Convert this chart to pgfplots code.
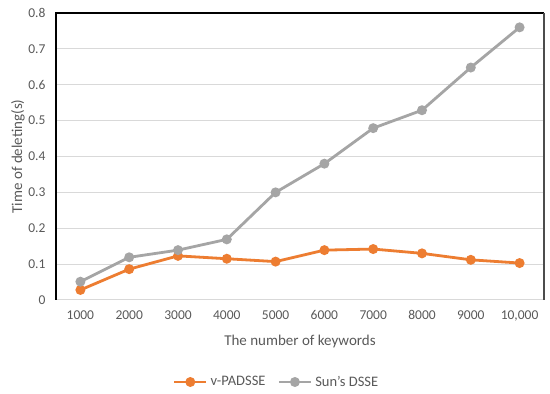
\documentclass[border=0pt]{standalone}
\usepackage{pgfplots}
\pgfplotsset{compat=1.18}
\usepackage{fontspec}
\setmainfont{Carlito}
\definecolor{txt}{HTML}{595959}
\definecolor{orng}{HTML}{ED7D31}
\definecolor{gry}{HTML}{A5A5A5}
\definecolor{gridc}{HTML}{D9D9D9}
\begin{document}
\begin{tikzpicture}
\path[use as bounding box] (0pt,0pt) rectangle (550pt,394pt);
\begin{axis}[
  at={(56pt,94pt)}, anchor=south west,
  width=488pt, height=287pt, scale only axis,
  axis on top=false,
  xmin=0.5, xmax=10.5, ymin=0, ymax=0.8,
  xtick={1,2,3,4,5,6,7,8,9,10},
  xticklabels={1000,2000,3000,4000,5000,6000,7000,8000,9000,{10,000}},
  ytick={0,0.1,0.2,0.3,0.4,0.5,0.6,0.7,0.8},
  yticklabels={0,0.1,0.2,0.3,0.4,0.5,0.6,0.7,0.8},
  /pgf/number format/assume math mode=true,
  grid=none,
  major tick length=0.1pt,
  tick style={draw opacity=0, line width=0pt},
  axis line style={draw=none},
  tick label style={font=\fontsize{13.5}{15}\selectfont, text=txt},
  yticklabel style={anchor=east, xshift=-7pt},
  xticklabel style={anchor=north, yshift=-7pt},
  label style={font=\fontsize{15}{17}\selectfont, text=txt},
  xlabel={The number of keywords},
  ylabel={Time of deleting(s)},
  xlabel style={at={(axis description cs:0.5,0)}, anchor=center, yshift=-42pt},
  ylabel style={at={(axis description cs:0,0.5)}, anchor=center, yshift=38pt},
  legend columns=2,
  legend style={at={(axis description cs:0.452,-0.2857)}, anchor=center, draw=none, fill=none,
    font=\fontsize{14.5}{16}\selectfont, text=txt, column sep=10pt,
    /tikz/every odd column/.style={column sep=1pt}},
  legend image code/.code={\draw[mark repeat=2,mark phase=2,#1] plot coordinates {(0pt,0pt) (16pt,0pt) (32pt,0pt)};},
  clip=false,
]
\fill[white] (rel axis cs:0,0) rectangle (rel axis cs:1,1);
\pgfplotsinvokeforeach{0,0.1,0.2,0.3,0.4,0.5,0.6,0.7}{
  \draw[gridc, line width=1pt] (axis cs:0.5,#1) -- (axis cs:10.5,#1);
}
\addplot[orng, line width=2.8pt, mark=*, mark size=3.5pt, mark options={solid}] coordinates {
(1,0.028) (2,0.086) (3,0.123) (4,0.115) (5,0.107) (6,0.139) (7,0.142) (8,0.130) (9,0.112) (10,0.103)};
\addlegendentry{v-PADSSE}
\addplot[gry, line width=2.8pt, mark=*, mark size=3.5pt, mark options={solid}] coordinates {
(1,0.051) (2,0.119) (3,0.139) (4,0.169) (5,0.300) (6,0.380) (7,0.479) (8,0.529) (9,0.648) (10,0.760)};
\addlegendentry{Sun's DSSE}
\draw[black, line width=1.3pt] (rel axis cs:0,0) -- (rel axis cs:0,1) -- (rel axis cs:1,1);
\draw[black!70, line width=1.3pt] (rel axis cs:1,1) -- (rel axis cs:1,0);
\end{axis}
\end{tikzpicture}
\end{document}
